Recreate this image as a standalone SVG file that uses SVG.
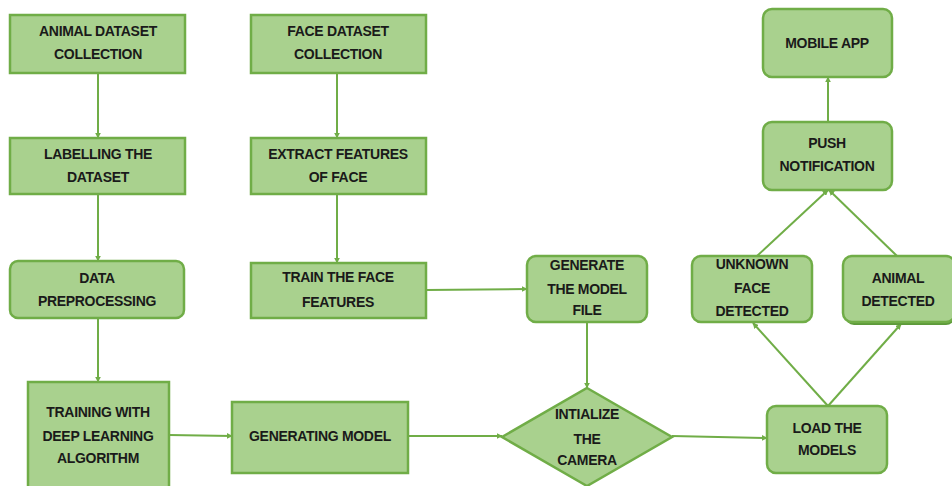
<svg xmlns="http://www.w3.org/2000/svg" width="952" height="486" viewBox="0 0 952 486">
<style>
.n{fill:#a9d18e;stroke:#70ad47;stroke-width:2.5}
.t{font-family:"Liberation Sans",Arial,sans-serif;font-weight:bold;font-size:14px;fill:#1a1a1a;text-anchor:middle;letter-spacing:-0.3px}
.c{fill:none;stroke:#70ad47;stroke-width:2;marker-end:url(#ah)}
</style>
<defs>
<marker id="ah" viewBox="0 0 10 10" refX="9" refY="5" markerWidth="3" markerHeight="3" orient="auto" markerUnits="strokeWidth">
<path d="M0,0 L10,5 L0,10 Z" fill="#70ad47"/>
</marker>
</defs>
<rect width="952" height="486" fill="#ffffff"/>
<g id="connectors">
<line class="c" x1="98" y1="73" x2="98" y2="138"/>
<line class="c" x1="98" y1="194" x2="98" y2="261"/>
<line class="c" x1="98" y1="318" x2="98" y2="382"/>
<line class="c" x1="337" y1="73" x2="337" y2="138"/>
<line class="c" x1="337" y1="194" x2="337" y2="263"/>
<line class="c" x1="169" y1="435" x2="232" y2="436"/>
<line class="c" x1="408" y1="436" x2="502" y2="436"/>
<line class="c" x1="426" y1="290" x2="527" y2="289"/>
<line class="c" x1="587" y1="322" x2="587" y2="388"/>
<line class="c" x1="672" y1="436" x2="767" y2="438"/>
<line class="c" x1="828" y1="406" x2="753" y2="323"/>
<line class="c" x1="828" y1="406" x2="901" y2="324"/>
<line class="c" x1="757" y1="256" x2="828" y2="190"/>
<line class="c" x1="897" y1="256" x2="829" y2="190"/>
<line class="c" x1="828" y1="122" x2="828" y2="77"/>
</g>
<g id="animal-dataset"><rect class="n" x="10" y="15" width="175" height="58"/><text class="t" x="98" y="36">ANIMAL DATASET</text><text class="t" x="98" y="59">COLLECTION</text></g>
<g id="face-dataset"><rect class="n" x="251" y="15" width="175" height="58"/><text class="t" x="338" y="36">FACE DATASET</text><text class="t" x="338" y="59">COLLECTION</text></g>
<g id="labelling"><rect class="n" x="10" y="138" width="175" height="56"/><text class="t" x="98" y="159">LABELLING THE</text><text class="t" x="98" y="182">DATASET</text></g>
<g id="extract"><rect class="n" x="251" y="138" width="175" height="56"/><text class="t" x="338" y="159">EXTRACT FEATURES</text><text class="t" x="338" y="182">OF FACE</text></g>
<g id="preprocessing"><rect class="n" x="10" y="261" width="174" height="57" rx="8"/><text class="t" x="97" y="283">DATA</text><text class="t" x="97" y="306">PREPROCESSING</text></g>
<g id="train-face"><rect class="n" x="251" y="263" width="175" height="55"/><text class="t" x="338" y="282">TRAIN THE FACE</text><text class="t" x="338" y="307">FEATURES</text></g>
<g id="training"><rect class="n" x="28" y="382" width="141" height="106"/><text class="t" x="98" y="417">TRAINING WITH</text><text class="t" x="98" y="441">DEEP LEARNING</text><text class="t" x="98" y="463">ALGORITHM</text></g>
<g id="generating-model"><rect class="n" x="232" y="402" width="176" height="71"/><text class="t" x="320" y="441">GENERATING MODEL</text></g>
<g id="model-file"><rect class="n" x="527" y="256" width="120" height="66" rx="9"/><text class="t" x="587" y="270">GENERATE</text><text class="t" x="587" y="294">THE MODEL</text><text class="t" x="587" y="315">FILE</text></g>
<g id="camera"><polygon class="n" points="587,388 672,437 587,486 502,437"/><text class="t" x="587" y="419">INTIALIZE</text><text class="t" x="587" y="444">THE</text><text class="t" x="587" y="465">CAMERA</text></g>
<g id="load-models"><rect class="n" x="767" y="406" width="120" height="67" rx="9"/><text class="t" x="827" y="433">LOAD THE</text><text class="t" x="827" y="455">MODELS</text></g>
<g id="unknown-face"><rect class="n" x="692" y="256" width="120" height="66" rx="9"/><text class="t" x="752" y="269">UNKNOWN</text><text class="t" x="752" y="293">FACE</text><text class="t" x="752" y="316">DETECTED</text></g>
<g id="animal-detected"><rect x="845" y="259" width="110" height="66" rx="9" fill="#5d9a3a"/><rect class="n" x="843" y="256" width="112" height="66" rx="9"/><text class="t" x="898" y="283">ANIMAL</text><text class="t" x="898" y="306">DETECTED</text></g>
<g id="push"><rect class="n" x="763" y="122" width="129" height="68" rx="9"/><text class="t" x="827" y="148">PUSH</text><text class="t" x="827" y="171">NOTIFICATION</text></g>
<g id="mobile-app"><rect class="n" x="763" y="9" width="129" height="68" rx="9"/><text class="t" x="827" y="48">MOBILE APP</text></g>
</svg>
